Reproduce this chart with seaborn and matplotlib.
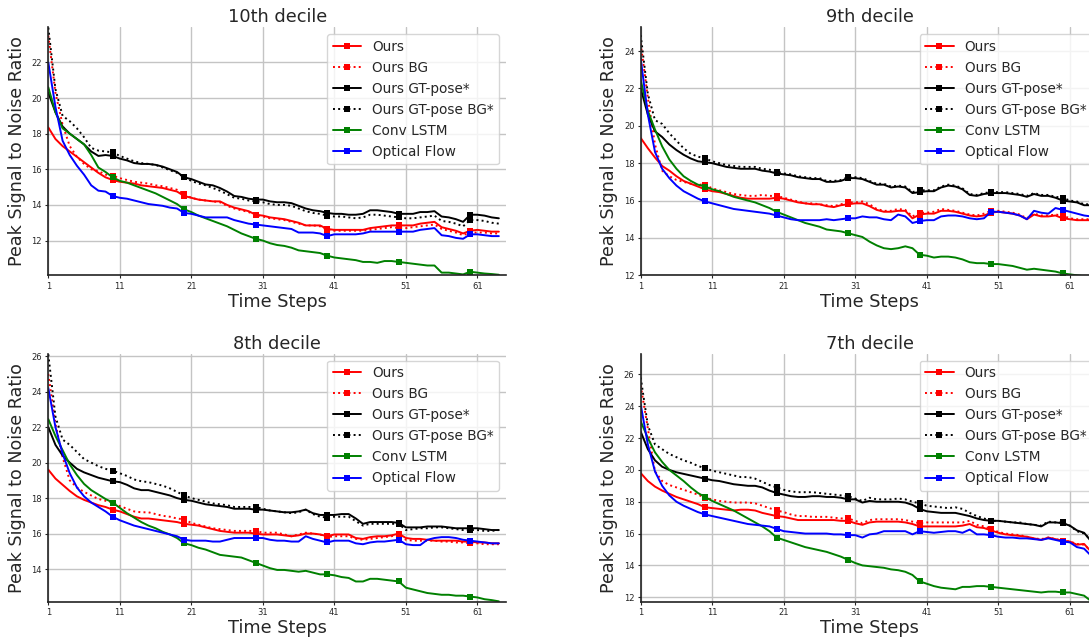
import numpy as np
import matplotlib
matplotlib.use("Agg")
import matplotlib.pyplot as plt
import seaborn as sns
from matplotlib.ticker import MultipleLocator

# ---------------- data ----------------
steps = list(range(1, 65))
xtick_vals = [1, 11, 21, 31, 41, 51, 61]
series_names = ["Ours", "Ours BG", "Ours GT-pose*", "Ours GT-pose BG*", "Conv LSTM", "Optical Flow"]
panel_titles = ["10th decile", "9th decile", "8th decile", "7th decile"]

# 10th decile
ours10 = [18.35, 17.7, 17.3, 17.0, 16.7, 16.4, 16.1, 15.8, 15.55, 15.4,
          15.3, 15.25, 15.2, 15.1, 15.05, 15.0, 14.95, 14.85, 14.75, 14.5,
          14.4, 14.3, 14.25, 14.2, 14.2, 14.0, 13.85, 13.75, 13.65, 13.45,
          13.4, 13.3, 13.25, 13.2, 13.1, 13.0, 12.85, 12.85, 12.85, 12.65,
          12.6, 12.6, 12.6, 12.6, 12.6, 12.7, 12.75, 12.8, 12.85, 12.85,
          12.85, 12.85, 12.95, 13.0, 13.05, 12.75, 12.65, 12.55, 12.4, 12.55,
          12.6, 12.55, 12.5, 12.5]
oursbg10 = [23.5, 20.3, 18.5, 17.3, 16.7, 16.3, 16.0, 15.9, 15.7, 15.65,
            15.5, 15.4, 15.3, 15.25, 15.2, 15.1, 15.05, 14.95, 14.85, 14.6,
            14.4, 14.3, 14.25, 14.2, 14.15, 13.95, 13.8, 13.7, 13.6, 13.45,
            13.35, 13.25, 13.2, 13.15, 13.05, 12.95, 12.85, 12.85, 12.8, 12.6,
            12.55, 12.55, 12.55, 12.55, 12.55, 12.6, 12.65, 12.7, 12.75, 12.7,
            12.7, 12.75, 12.8, 12.85, 12.9, 12.65, 12.55, 12.45, 12.3, 12.45,
            12.45, 12.45, 12.4, 12.4]
gt10 = [20.3, 19.2, 18.4, 18.0, 17.7, 17.4, 17.0, 16.75, 16.8, 16.75,
        16.6, 16.5, 16.35, 16.3, 16.3, 16.25, 16.15, 16.0, 15.85, 15.55,
        15.45, 15.3, 15.15, 15.1, 14.95, 14.75, 14.5, 14.45, 14.35, 14.3,
        14.3, 14.2, 14.15, 14.15, 14.1, 13.95, 13.8, 13.7, 13.65, 13.55,
        13.5, 13.5, 13.45, 13.45, 13.5, 13.7, 13.7, 13.65, 13.6, 13.5,
        13.5, 13.5, 13.6, 13.6, 13.65, 13.35, 13.3, 13.2, 13.05, 13.45,
        13.45, 13.4, 13.3, 13.25]
gtbg10 = [23.95, 20.5, 19.0, 18.7, 18.3, 17.8, 17.2, 17.05, 17.0, 16.95,
          16.75, 16.6, 16.45, 16.35, 16.3, 16.25, 16.1, 15.95, 15.8, 15.55,
          15.35, 15.2, 15.1, 14.95, 14.8, 14.6, 14.4, 14.35, 14.25, 14.2,
          14.15, 14.05, 14.0, 14.0, 13.95, 13.8, 13.65, 13.55, 13.5, 13.4,
          13.35, 13.35, 13.3, 13.25, 13.3, 13.45, 13.45, 13.4, 13.35, 13.3,
          13.25, 13.25, 13.3, 13.35, 13.4, 13.1, 13.05, 12.95, 12.8, 13.15,
          13.15, 13.1, 13.0, 12.95]
conv10 = [20.6, 19.2, 18.3, 18.0, 17.7, 17.4, 16.8, 16.1, 15.85, 15.55,
          15.35, 15.25, 15.1, 14.95, 14.8, 14.65, 14.45, 14.25, 14.05, 13.75,
          13.6, 13.4, 13.25, 13.1, 12.95, 12.8, 12.6, 12.4, 12.25, 12.1,
          12.0, 11.85, 11.75, 11.7, 11.6, 11.45, 11.4, 11.35, 11.3, 11.15,
          11.05, 11.0, 10.95, 10.9, 10.8, 10.8, 10.75, 10.85, 10.85, 10.8,
          10.75, 10.7, 10.65, 10.6, 10.6, 10.2, 10.2, 10.15, 10.1, 10.25,
          10.2, 10.15, 10.12, 10.08]
flow10 = [22.0, 19.5, 17.6, 16.8, 16.2, 15.7, 15.1, 14.8, 14.75, 14.5,
          14.4, 14.35, 14.25, 14.15, 14.05, 14.0, 13.95, 13.85, 13.8, 13.55,
          13.5, 13.4, 13.3, 13.3, 13.3, 13.3, 13.15, 13.05, 12.95, 12.9,
          12.85, 12.8, 12.75, 12.7, 12.65, 12.45, 12.45, 12.45, 12.4, 12.25,
          12.35, 12.35, 12.35, 12.35, 12.4, 12.5, 12.5, 12.5, 12.5, 12.5,
          12.5, 12.5, 12.6, 12.65, 12.7, 12.3, 12.25, 12.15, 12.1, 12.35,
          12.35, 12.3, 12.25, 12.25]

# 9th decile
ours9 = [19.35, 18.8, 18.3, 17.85, 17.6, 17.3, 17.05, 16.9, 16.75, 16.6,
         16.5, 16.45, 16.35, 16.25, 16.15, 16.1, 16.1, 16.1, 16.1, 16.15,
         16.1, 16.0, 15.9, 15.85, 15.8, 15.8, 15.7, 15.65, 15.75, 15.8,
         15.85, 15.85, 15.7, 15.5, 15.4, 15.4, 15.45, 15.45, 15.05, 15.25,
         15.3, 15.3, 15.45, 15.45, 15.4, 15.3, 15.2, 15.15, 15.2, 15.35,
         15.4, 15.35, 15.3, 15.2, 15.0, 15.25, 15.15, 15.15, 15.2, 15.05,
         15.0, 14.95, 14.95, 14.95]
oursbg9 = [24.4, 21.5, 19.0, 17.6, 17.3, 17.1, 17.0, 16.9, 16.85, 16.85,
           16.65, 16.55, 16.45, 16.35, 16.3, 16.25, 16.25, 16.3, 16.25, 16.25,
           16.15, 16.05, 15.95, 15.85, 15.85, 15.8, 15.75, 15.7, 15.8, 15.9,
           15.9, 15.95, 15.8, 15.55, 15.45, 15.45, 15.55, 15.5, 15.15, 15.35,
           15.35, 15.4, 15.55, 15.5, 15.45, 15.35, 15.25, 15.2, 15.3, 15.45,
           15.45, 15.4, 15.35, 15.25, 15.05, 15.3, 15.2, 15.2, 15.25, 15.2,
           15.05, 15.0, 15.0, 15.0]
gt9 = [22.0, 20.6, 19.7, 19.4, 19.0, 18.7, 18.45, 18.25, 18.1, 18.05,
       18.0, 17.9, 17.8, 17.75, 17.7, 17.7, 17.7, 17.6, 17.55, 17.45,
       17.4, 17.35, 17.25, 17.2, 17.15, 17.15, 17.0, 17.0, 17.05, 17.2,
       17.2, 17.15, 17.0, 16.85, 16.85, 16.7, 16.75, 16.7, 16.4, 16.45,
       16.5, 16.5, 16.7, 16.8, 16.75, 16.6, 16.3, 16.25, 16.35, 16.4,
       16.4, 16.4, 16.35, 16.3, 16.2, 16.35, 16.25, 16.25, 16.15, 16.0,
       15.95, 15.9, 15.75, 15.75]
gtbg9 = [24.85, 21.7, 20.3, 20.1, 19.6, 19.2, 18.8, 18.5, 18.35, 18.25,
         18.1, 18.0, 17.9, 17.85, 17.8, 17.8, 17.8, 17.7, 17.65, 17.55,
         17.45, 17.4, 17.3, 17.25, 17.2, 17.2, 17.05, 17.05, 17.1, 17.25,
         17.25, 17.2, 17.05, 16.9, 16.9, 16.75, 16.8, 16.75, 16.45, 16.55,
         16.55, 16.55, 16.75, 16.85, 16.8, 16.65, 16.35, 16.3, 16.4, 16.45,
         16.45, 16.45, 16.4, 16.35, 16.25, 16.4, 16.3, 16.3, 16.2, 16.15,
         16.0, 15.95, 15.8, 15.8]
conv9 = [22.45, 20.8, 19.8, 18.9, 18.2, 17.7, 17.3, 17.05, 16.85, 16.75,
         16.6, 16.5, 16.35, 16.2, 16.1, 16.0, 15.9, 15.75, 15.6, 15.4,
         15.25, 15.1, 14.95, 14.8, 14.7, 14.6, 14.45, 14.4, 14.35, 14.25,
         14.15, 14.05, 13.8, 13.6, 13.45, 13.4, 13.45, 13.55, 13.45, 13.1,
         13.05, 12.95, 13.0, 13.0, 12.95, 12.85, 12.7, 12.65, 12.65, 12.6,
         12.6, 12.55, 12.5, 12.4, 12.3, 12.35, 12.3, 12.25, 12.2, 12.1,
         12.05, 12.0, 11.95, 11.9]
flow9 = [23.6, 20.6, 18.6, 17.7, 17.2, 16.8, 16.5, 16.3, 16.1, 15.95,
         15.85, 15.75, 15.65, 15.55, 15.5, 15.45, 15.4, 15.35, 15.3, 15.2,
         15.1, 15.0, 14.95, 14.95, 14.95, 14.95, 15.0, 14.95, 15.0, 15.05,
         15.05, 15.15, 15.1, 15.1, 15.0, 14.95, 15.25, 15.15, 14.8, 14.9,
         14.95, 14.95, 15.15, 15.2, 15.2, 15.15, 15.05, 15.0, 15.05, 15.4,
         15.4, 15.35, 15.3, 15.2, 15.0, 15.45, 15.35, 15.3, 15.6, 15.5,
         15.4, 15.3, 15.2, 15.15]

# 8th decile
ours8 = [19.6, 19.1, 18.75, 18.4, 18.1, 17.9, 17.75, 17.6, 17.5, 17.35,
         17.25, 17.1, 16.95, 16.85, 16.85, 16.8, 16.75, 16.7, 16.65, 16.55,
         16.5, 16.45, 16.35, 16.25, 16.15, 16.1, 16.05, 16.05, 16.05, 16.0,
         15.95, 15.95, 15.95, 15.9, 15.85, 15.9, 16.0, 16.0, 15.95, 15.85,
         15.95, 15.95, 15.95, 15.75, 15.7, 15.8, 15.85, 15.85, 15.9, 16.0,
         15.75, 15.7, 15.7, 15.65, 15.6, 15.6, 15.6, 15.6, 15.55, 15.55,
         15.5, 15.5, 15.45, 15.45]
oursbg8 = [25.0, 22.2, 20.3, 19.0, 18.6, 18.35, 18.15, 17.95, 17.85, 17.75,
           17.55, 17.4, 17.25, 17.2, 17.2, 17.1, 17.0, 16.95, 16.85, 16.8,
           16.6, 16.5, 16.4, 16.3, 16.25, 16.2, 16.15, 16.15, 16.15, 16.15,
           16.05, 16.05, 16.05, 15.95, 15.85, 15.95, 16.05, 16.0, 15.95, 15.8,
           15.85, 15.85, 15.85, 15.7, 15.65, 15.7, 15.75, 15.8, 15.85, 15.95,
           15.65, 15.6, 15.6, 15.6, 15.6, 15.55, 15.55, 15.5, 15.5, 15.45,
           15.45, 15.4, 15.4, 15.4]
gt8 = [22.0, 21.0, 20.4, 20.0, 19.65, 19.45, 19.3, 19.15, 19.05, 18.95,
       18.9, 18.75, 18.55, 18.45, 18.45, 18.35, 18.25, 18.15, 18.0, 17.9,
       17.85, 17.75, 17.65, 17.6, 17.55, 17.5, 17.4, 17.4, 17.4, 17.35,
       17.35, 17.3, 17.25, 17.2, 17.2, 17.25, 17.35, 17.15, 17.05, 17.05,
       17.05, 17.1, 17.1, 16.85, 16.55, 16.65, 16.65, 16.65, 16.65, 16.6,
       16.35, 16.35, 16.35, 16.4, 16.4, 16.4, 16.35, 16.3, 16.3, 16.3,
       16.3, 16.25, 16.2, 16.2]
gtbg8 = [26.1, 22.6, 21.3, 21.0, 20.6, 20.2, 20.0, 19.8, 19.65, 19.55,
         19.4, 19.25, 19.05, 18.95, 18.9, 18.8, 18.7, 18.55, 18.35, 18.15,
         18.0, 17.9, 17.8, 17.7, 17.65, 17.6, 17.5, 17.5, 17.5, 17.5,
         17.4, 17.3, 17.25, 17.2, 17.15, 17.2, 17.35, 17.1, 16.95, 16.9,
         16.95, 16.95, 16.95, 16.7, 16.45, 16.55, 16.55, 16.55, 16.55, 16.55,
         16.2, 16.25, 16.3, 16.3, 16.35, 16.35, 16.3, 16.25, 16.2, 16.2,
         16.2, 16.15, 16.15, 16.2]
conv8 = [22.45, 21.5, 20.7, 19.9, 19.3, 18.8, 18.45, 18.2, 17.95, 17.75,
         17.45, 17.15, 16.9, 16.65, 16.45, 16.3, 16.1, 15.95, 15.75, 15.45,
         15.35, 15.2, 15.1, 14.95, 14.8, 14.75, 14.7, 14.65, 14.5, 14.35,
         14.2, 14.05, 13.95, 13.95, 13.9, 13.85, 13.9, 13.8, 13.7, 13.7,
         13.65, 13.55, 13.5, 13.3, 13.3, 13.45, 13.45, 13.4, 13.35, 13.3,
         12.95, 12.85, 12.75, 12.65, 12.6, 12.55, 12.55, 12.5, 12.5, 12.45,
         12.4, 12.3, 12.25, 12.18]
flow8 = [24.2, 22.0, 20.5, 19.4, 18.6, 18.1, 17.75, 17.5, 17.25, 16.95,
         16.75, 16.6, 16.45, 16.35, 16.25, 16.15, 16.05, 15.95, 15.85, 15.65,
         15.6, 15.6, 15.6, 15.55, 15.55, 15.65, 15.75, 15.75, 15.75, 15.75,
         15.75, 15.65, 15.6, 15.6, 15.55, 15.55, 15.85, 15.7, 15.6, 15.5,
         15.6, 15.6, 15.6, 15.45, 15.4, 15.5, 15.55, 15.55, 15.6, 15.65,
         15.4, 15.35, 15.35, 15.65, 15.75, 15.8, 15.8, 15.75, 15.65, 15.6,
         15.55, 15.5, 15.45, 15.45]

# 7th decile
ours7 = [19.8, 19.3, 18.95, 18.7, 18.5, 18.3, 18.15, 18.0, 17.85, 17.65,
         17.6, 17.55, 17.5, 17.45, 17.5, 17.5, 17.45, 17.3, 17.2, 17.1,
         17.05, 16.95, 16.85, 16.85, 16.85, 16.85, 16.85, 16.85, 16.8, 16.8,
         16.65, 16.55, 16.7, 16.75, 16.75, 16.75, 16.75, 16.7, 16.6, 16.45,
         16.45, 16.45, 16.45, 16.45, 16.45, 16.5, 16.6, 16.4, 16.35, 16.2,
         16.05, 15.95, 15.9, 15.85, 15.8, 15.7, 15.6, 15.75, 15.65, 15.55,
         15.5, 15.3, 15.35, 14.85]
oursbg7 = [25.3, 22.6, 19.9, 19.3, 19.05, 18.9, 18.75, 18.6, 18.45, 18.25,
           18.15, 18.05, 18.0, 17.95, 17.95, 17.95, 17.9, 17.75, 17.6, 17.45,
           17.35, 17.2, 17.1, 17.1, 17.05, 17.05, 17.05, 17.0, 16.95, 16.95,
           16.8, 16.65, 16.85, 16.9, 16.9, 16.9, 16.9, 16.85, 16.75, 16.65,
           16.7, 16.7, 16.7, 16.7, 16.7, 16.7, 16.8, 16.55, 16.45, 16.3,
           16.1, 16.0, 15.95, 15.9, 15.8, 15.7, 15.65, 15.75, 15.65, 15.55,
           15.5, 15.35, 15.3, 14.9]
gt7 = [22.4, 21.3, 20.6, 20.2, 20.0, 19.85, 19.75, 19.65, 19.55, 19.45,
       19.35, 19.3, 19.2, 19.1, 19.05, 19.0, 19.0, 18.9, 18.7, 18.55,
       18.45, 18.35, 18.3, 18.3, 18.35, 18.35, 18.3, 18.3, 18.25, 18.15,
       18.15, 17.95, 18.05, 18.0, 18.0, 18.0, 18.0, 17.95, 17.8, 17.55,
       17.4, 17.35, 17.3, 17.3, 17.3, 17.2, 17.1, 16.95, 16.85, 16.8,
       16.8, 16.75, 16.7, 16.65, 16.6, 16.55, 16.45, 16.7, 16.7, 16.65,
       16.5, 16.2, 16.05, 15.5]
gtbg7 = [25.8, 22.8, 21.6, 21.3, 21.0, 20.8, 20.6, 20.45, 20.25, 20.1,
         19.95, 19.85, 19.75, 19.65, 19.55, 19.55, 19.45, 19.25, 19.05, 18.9,
         18.75, 18.65, 18.6, 18.6, 18.6, 18.55, 18.5, 18.45, 18.4, 18.35,
         18.2, 18.05, 18.25, 18.15, 18.15, 18.15, 18.2, 18.15, 18.0, 17.9,
         17.75, 17.7, 17.65, 17.6, 17.65, 17.55, 17.3, 17.1, 16.95, 16.8,
         16.8, 16.75, 16.7, 16.7, 16.6, 16.55, 16.5, 16.75, 16.7, 16.7,
         16.5, 16.15, 16.0, 15.6]
conv7 = [23.05, 22.0, 21.1, 20.5, 20.0, 19.65, 19.3, 18.9, 18.55, 18.3,
         18.05, 17.85, 17.65, 17.45, 17.2, 16.95, 16.7, 16.45, 16.15, 15.75,
         15.6, 15.45, 15.3, 15.15, 15.05, 14.95, 14.85, 14.7, 14.55, 14.35,
         14.15, 14.0, 13.95, 13.9, 13.85, 13.75, 13.7, 13.6, 13.4, 13.0,
         12.85, 12.7, 12.6, 12.55, 12.5, 12.65, 12.65, 12.7, 12.7, 12.65,
         12.6, 12.55, 12.5, 12.45, 12.4, 12.35, 12.3, 12.35, 12.35, 12.3,
         12.3, 12.2, 12.1, 11.75]
flow7 = [24.1, 21.6, 19.9, 19.0, 18.4, 18.0, 17.75, 17.55, 17.35, 17.2,
         17.1, 17.0, 16.9, 16.8, 16.7, 16.6, 16.55, 16.5, 16.45, 16.3,
         16.15, 16.1, 16.05, 16.0, 16.0, 16.0, 16.0, 15.95, 15.95, 15.9,
         15.9, 15.75, 15.95, 16.0, 16.15, 16.15, 16.15, 16.15, 15.95, 16.15,
         16.1, 16.05, 16.1, 16.15, 16.15, 16.05, 16.25, 15.95, 15.95, 15.9,
         15.8, 15.75, 15.75, 15.7, 15.7, 15.65, 15.6, 15.7, 15.6, 15.5,
         15.45, 15.15, 15.05, 14.6]

panels = [
    [ours10, oursbg10, gt10, gtbg10, conv10, flow10],
    [ours9, oursbg9, gt9, gtbg9, conv9, flow9],
    [ours8, oursbg8, gt8, gtbg8, conv8, flow8],
    [ours7, oursbg7, gt7, gtbg7, conv7, flow7],
]

# ---------------- style ----------------
colors = ["red", "red", "black", "black", "green", "blue"]
styles = ["-", ":", "-", ":", "-", "-"]
ylims = [(10.05, 23.97), (12.0, 25.27), (12.16, 26.14), (11.72, 27.3)]

sns.set_style("ticks")
plt.rcParams["font.family"] = ["DejaVu Sans"]

W, H = 1089, 639
fig = plt.figure(figsize=(W / 100, H / 100), dpi=100)

ax_w = 457.7 / W
ax_h = 248.0 / H
lefts = [48.3 / W, 640.7 / W]
bottoms = [(H - 275.3) / H, (H - 601.7) / H]
positions = [
    (lefts[0], bottoms[0]), (lefts[1], bottoms[0]),
    (lefts[0], bottoms[1]), (lefts[1], bottoms[1]),
]

mark_idx = [9, 19, 29, 39, 49, 59]

for p, (pos, title, data, ylim) in enumerate(zip(positions, panel_titles, panels, ylims)):
    ax = fig.add_axes([pos[0], pos[1], ax_w, ax_h])
    for name, vals, c, ls in zip(series_names, data, colors, styles):
        assert len(vals) == len(steps)
        sns.lineplot(x=steps, y=vals, ax=ax, color=c, linestyle=ls, linewidth=1.4,
                     marker="s", markersize=5, markevery=mark_idx, markeredgewidth=0,
                     label=name, estimator=None, sort=False)
    ax.set_xlim(1, 65)
    ax.set_ylim(*ylim)
    ax.set_xticks(xtick_vals)
    ax.yaxis.set_major_locator(MultipleLocator(2))
    ax.grid(True, color="#c4c4c4", linewidth=1.0)
    ax.set_axisbelow(True)
    sns.despine(ax=ax)
    for s in ["left", "bottom"]:
        ax.spines[s].set_color("#222222")
        ax.spines[s].set_linewidth(1.2)
    ax.tick_params(axis="both", labelsize=6, length=2.5, pad=2, width=0.8)
    ax.set_title(title, fontsize=12.8, pad=3.5)
    ax.set_xlabel("Time Steps", fontsize=12.8, labelpad=1.5)
    ax.set_ylabel("Peak Signal to Noise Ratio", fontsize=12.6, labelpad=4)
    leg = ax.legend(loc="upper right", fontsize=9.8, labelspacing=0.52,
                    handlelength=2.1, frameon=True, fancybox=True, framealpha=0.8,
                    edgecolor="#cccccc", borderaxespad=0.5)

fig.savefig("out.png", dpi=100)
